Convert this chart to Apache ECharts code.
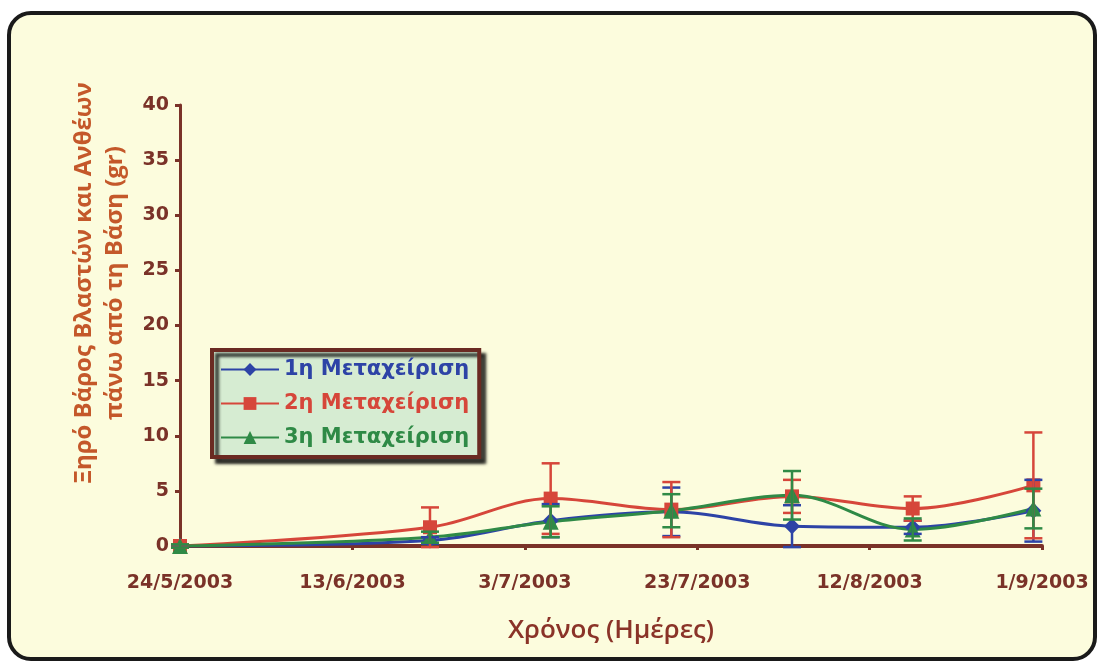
<!DOCTYPE html>
<html><head><meta charset="utf-8">
<script src="https://cdn.jsdelivr.net/npm/echarts@6/dist/echarts.min.js"></script>
<style>html,body{margin:0;padding:0;background:#ffffff;}#c{width:1102px;height:662px;}</style>
</head><body><div id="c"></div>
<script>
const startDate = '2003-05-24';
const pointDates = ['2003-05-24','2003-06-22','2003-07-06','2003-07-20','2003-08-03','2003-08-17','2003-08-31'];
const xTickLabels = ['24/5/2003','13/6/2003','3/7/2003','23/7/2003','12/8/2003','1/9/2003'];
const seriesNames = ['1η Μεταχείριση','2η Μεταχείριση','3η Μεταχείριση'];
const yAxisTitle = ['Ξηρό Βάρος Βλαστών και Ανθέων', 'πάνω από τη Βάση (gr)'];
const xAxisTitle = 'Χρόνος (Ημέρες)';
const values1 = [0, 0.5, 2.3, 3.1, 1.8, 1.7, 3.2];
const values2 = [0, 1.7, 4.3, 3.3, 4.5, 3.4, 5.5];
const values3 = [0, 0.8, 2.2, 3.2, 4.6, 1.5, 3.4];
const err1 = [0.1, 0.3, 1.5, 2.2, 1.9, 0.6, 2.8];
const err2 = [0.15, 1.8, 3.2, 2.5, 1.5, 1.1, 4.8];
const err3 = [0.15, 0.5, 1.4, 1.5, 2.2, 1.0, 1.8];

const colors = ['#2d43a6', '#d6463a', '#2f8a46'];
const symbols = ['diamond', 'rect', 'triangle'];
const DAY = 86400000;
const t0 = Date.parse(startDate + 'T00:00:00Z');
const xDays = pointDates.map(d => (Date.parse(d + 'T00:00:00Z') - t0) / DAY);

const allVals = [values1, values2, values3];
const allErr = [err1, err2, err3];
const axisColor = '#7a3228';
const tickFont = 'DejaVu Sans, Liberation Sans, Arial';

const series = [];
allVals.forEach((vals, i) => {
  series.push({
    name: seriesNames[i], type: 'line', smooth: 0.35,
    data: vals.map((v, k) => [xDays[k], v]),
    symbol: symbols[i], symbolSize: i === 1 ? 14 : 16,
    lineStyle: { color: colors[i], width: 3 },
    itemStyle: { color: colors[i] },
    z: 3
  });
  series.push({
    type: 'custom', name: seriesNames[i] + '_err', z: 4,
    data: vals.map((v, k) => [xDays[k], v - allErr[i][k], v + allErr[i][k]]),
    renderItem: function (params, api) {
      const lo = api.coord([api.value(0), api.value(1)]);
      const hi = api.coord([api.value(0), api.value(2)]);
      const w = 9;
      const st = { stroke: colors[i], lineWidth: 2.5 };
      return { type: 'group', children: [
        { type: 'line', shape: { x1: lo[0], y1: lo[1], x2: hi[0], y2: hi[1] }, style: st },
        { type: 'line', shape: { x1: lo[0] - w, y1: lo[1], x2: lo[0] + w, y2: lo[1] }, style: st },
        { type: 'line', shape: { x1: hi[0] - w, y1: hi[1], x2: hi[0] + w, y2: hi[1] }, style: st }
      ]};
    },
    encode: { x: 0, y: [1, 2] },
    silent: true
  });
});

const chart = echarts.init(document.getElementById('c'));
chart.setOption({
  animation: false,
  backgroundColor: '#ffffff',
  graphic: [{
    type: 'rect', z: -10, silent: true,
    shape: { x: 9, y: 13, width: 1086, height: 646, r: 22 },
    style: { fill: '#fcfcdd', stroke: '#1a1a1a', lineWidth: 4 }
  }, {
    type: 'text', silent: true, z: 10,
    x: 100, y: 283, rotation: Math.PI / 2,
    style: {
      text: yAxisTitle.join('\n'), fill: '#c4582a',
      font: 'bold 24px "Open Sans"', lineHeight: 31,
      align: 'center', verticalAlign: 'middle'
    }
  }],
  grid: { left: 180, right: 60, top: 105, bottom: 116 },
  legend: {
    orient: 'vertical', left: 212, top: 350,
    data: seriesNames.map((n, i) => ({ name: n, textStyle: { color: colors[i] } })),
    backgroundColor: '#d6ecd2', borderColor: '#6a2a22', borderWidth: 4,
    shadowColor: 'rgba(0,0,0,0.75)', shadowOffsetX: 5, shadowOffsetY: 5, shadowBlur: 3,
    padding: [9, 10, 9, 8], itemGap: 13, itemWidth: 58, itemHeight: 16,
    textStyle: { fontFamily: tickFont, fontWeight: 'bold', fontSize: 21 }
  },
  xAxis: {
    type: 'value', min: 0, max: 100, interval: 20,
    name: xAxisTitle, nameLocation: 'middle', nameGap: 72,
    nameTextStyle: { color: '#8a3328', fontSize: 26, fontFamily: 'Open Sans', fontWeight: 600 },
    axisLine: { lineStyle: { color: axisColor, width: 4 } },
    axisTick: { show: true, length: 4, lineStyle: { color: axisColor, width: 3 } },
    splitLine: { show: false },
    axisLabel: {
      color: axisColor, fontFamily: tickFont, fontWeight: 'bold', fontSize: 19, margin: 28,
      formatter: v => xTickLabels[Math.round(v / 20)]
    }
  },
  yAxis: {
    type: 'value', min: 0, max: 40, interval: 5,
    axisLine: { show: true, lineStyle: { color: axisColor, width: 3 } },
    axisTick: { show: true, length: 5, lineStyle: { color: axisColor, width: 3 } },
    splitLine: { show: false },
    axisLabel: { color: axisColor, fontFamily: tickFont, fontWeight: 'bold', fontSize: 19, margin: 11 }
  },
  series: series
});
</script></body></html>
